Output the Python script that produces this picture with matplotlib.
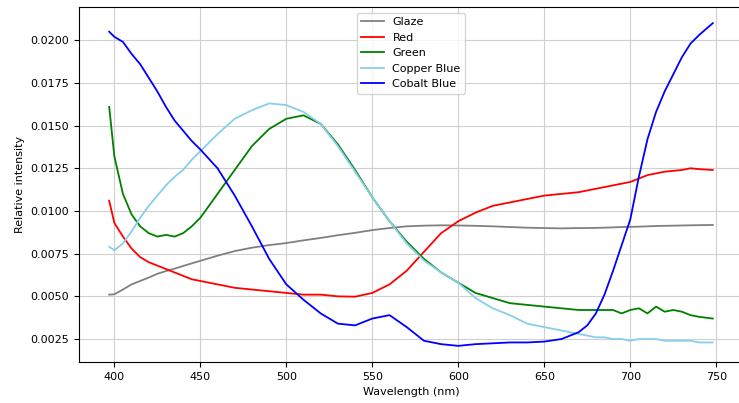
import numpy as np
import matplotlib.pyplot as plt

wavelength = [397, 400, 405, 410, 415, 420, 425, 430, 435, 440, 445, 450, 460, 470, 480,
              490, 500, 510, 520, 530, 540, 550, 560, 570, 580, 590, 600, 610, 620, 630,
              640, 650, 660, 670, 675, 680, 685, 690, 695, 700, 705, 710, 715, 720, 725,
              730, 735, 740, 748]

glaze = [.00510, .00512, .00540, .00570, .00590, .00610, .00632, .00648, .00662, .00678,
         .00693, .00708, .00738, .00765, .00785, .00800, .00812, .00828, .00842, .00858,
         .00872, .00888, .00900, .00910, .00914, .00916, .00915, .00913, .00910, .00906,
         .00902, .00900, .00898, .00900, .00900, .00901, .00902, .00904, .00906, .00907,
         .00908, .00910, .00912, .00913, .00914, .00915, .00916, .00917, .00918]

red = [.0106, .0093, .0085, .0078, .0073, .0070, .0068, .0066, .0064, .0062,
       .0060, .0059, .0057, .0055, .0054, .0053, .0052, .0051, .0051, .0050,
       .00498, .0052, .0057, .0065, .0076, .0087, .0094, .0099, .0103, .0105,
       .0107, .0109, .0110, .0111, .0112, .0113, .0114, .0115, .0116, .0117,
       .0119, .0121, .0122, .0123, .01235, .0124, .0125, .01245, .0124]

green = [.0161, .0132, .0110, .0098, .0091, .0087, .0085, .0086, .0085, .0087,
         .0091, .0096, .0110, .0124, .0138, .0148, .0154, .0156, .0151, .0139,
         .0124, .0108, .0094, .0082, .0072, .0064, .0058, .0052, .0049, .0046,
         .0045, .0044, .0043, .0042, .0042, .0042, .0042, .0042, .0040, .0042,
         .0043, .0040, .0044, .0041, .0042, .0041, .0039, .0038, .0037]

copper_blue = [.0079, .0077, .0081, .0088, .0096, .0103, .0109, .0115, .0120, .0124,
               .0130, .0135, .0145, .0154, .0159, .0163, .0162, .0158, .0151, .0138,
               .0123, .0108, .0094, .0081, .0071, .0064, .0058, .0049, .0043, .0039,
               .0034, .0032, .0030, .0028, .0027, .0026, .0026, .0025, .0025, .0024,
               .0025, .0025, .0025, .0024, .0024, .0024, .0024, .0023, .0023]

cobalt_blue = [.0205, .0202, .0199, .0192, .0186, .0178, .0170, .0161, .0153, .0147,
               .0141, .0136, .0125, .0109, .0091, .0072, .0057, .0048, .0040, .0034,
               .0033, .0037, .0039, .0032, .0024, .0022, .0021, .0022, .00225, .0023,
               .0023, .00235, .0025, .0029, .0033, .0040, .0051, .0065, .0080, .0095,
               .0120, .0142, .0158, .0170, .0180, .0190, .0198, .0203, .0210]

fig = plt.figure(figsize=(7.39, 4.03), dpi=100)
ax = fig.add_axes([79 / 739, 41 / 403, 664 / 739, 355 / 403])

lw = 1.3
ax.plot(wavelength, glaze, color='gray', lw=lw, label='Glaze')
ax.plot(wavelength, red, color='red', lw=lw, label='Red')
ax.plot(wavelength, green, color='green', lw=lw, label='Green')
ax.plot(wavelength, copper_blue, color='skyblue', lw=lw, label='Copper Blue')
ax.plot(wavelength, cobalt_blue, color='blue', lw=lw, label='Cobalt Blue')

ax.set_xlabel('Wavelength (nm)', fontsize=8)
ax.set_ylabel('Relative intensity', fontsize=8)
ax.tick_params(labelsize=8)
ax.legend(loc='upper center', fontsize=8)
ax.grid(True, color='#d0d0d0')

fig.savefig('out.png', dpi=100)
